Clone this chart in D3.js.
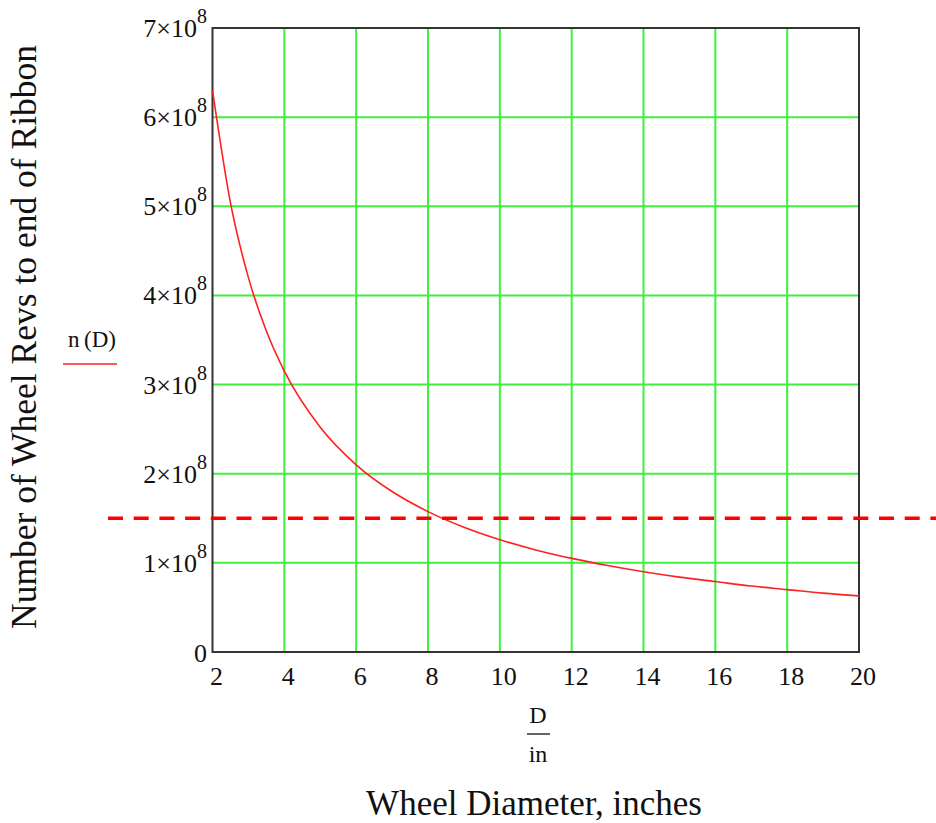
<!DOCTYPE html>
<html>
<head>
<meta charset="utf-8">
<script src="https://cdn.jsdelivr.net/npm/d3@7"></script>
<style>
  body { margin: 0; background: white; }
  text { font-family: "Liberation Serif", "Times New Roman", serif; fill: #111; }
</style>
</head>
<body>
<div id="chart"></div>
<script>
// wheel diameter (inches) and revs
const diameters = [2, 2.5, 3, 3.5, 4, 5, 6, 7, 8, 9, 10, 11, 12, 13, 14, 15, 16, 17, 18, 19, 20];
const revs = [6.3e8, 5.04e8, 4.2e8, 3.6e8, 3.15e8, 2.52e8, 2.1e8, 1.8e8, 1.575e8, 1.4e8, 1.26e8,
              1.145e8, 1.05e8, 9.7e7, 9.0e7, 8.4e7, 7.9e7, 7.4e7, 7.0e7, 6.6e7, 6.3e7];
const targetRevs = 1.5e8;
const xTicks = [2, 4, 6, 8, 10, 12, 14, 16, 18, 20];
const yTicks = [0, 1e8, 2e8, 3e8, 4e8, 5e8, 6e8, 7e8];

function renderChart(){

    const width = 936, height = 823;
    const left = 212.5, right = 859, top = 28, bottom = 652;

    const svg = d3.select("#chart").append("svg")
        .attr("width", width)
        .attr("height", height);

    const x = d3.scaleLinear().domain([2, 20]).range([left, right]);
    const y = d3.scaleLinear().domain([0, 7e8]).range([bottom, top]);

    // grid
    svg.append("g").selectAll("line")
        .data(xTicks.slice(1, -1))
        .enter().append("line")
        .attr("x1", d => x(d)).attr("x2", d => x(d))
        .attr("y1", top).attr("y2", bottom)
        .style("stroke", "#3cf23c")
        .style("stroke-width", 2);

    svg.append("g").selectAll("line")
        .data(yTicks.slice(1, -1))
        .enter().append("line")
        .attr("x1", left).attr("x2", right)
        .attr("y1", d => y(d)).attr("y2", d => y(d))
        .style("stroke", "#3cf23c")
        .style("stroke-width", 2);

    // frame
    svg.append("rect")
        .attr("x", left).attr("y", top)
        .attr("width", right - left).attr("height", bottom - top)
        .style("fill", "none")
        .style("stroke", "#333")
        .style("stroke-width", 2);

    // curve
    const line = d3.line()
        .x((d, i) => x(diameters[i]))
        .y(d => y(d))
        .curve(d3.curveMonotoneX);

    svg.append("path")
        .datum(revs)
        .attr("d", line)
        .style("fill", "none")
        .style("stroke", "#ff2020")
        .style("stroke-width", 1.6);

    // target line, runs past the plot on both sides
    svg.append("line")
        .attr("x1", 108).attr("x2", width)
        .attr("y1", y(targetRevs)).attr("y2", y(targetRevs))
        .style("stroke", "#ff0000")
        .style("stroke-width", 3.5)
        .style("stroke-dasharray", "15,10.7");

    // y tick labels
    const yLab = svg.append("g").selectAll("text")
        .data(yTicks)
        .enter().append("text")
        .attr("x", 207)
        .attr("y", d => y(d) + 9)
        .attr("text-anchor", "end")
        .style("font-size", "26px");

    yLab.each(function(d){
        const t = d3.select(this);
        if (d === 0) {
            t.attr("y", y(d) + 10).text("0");
            return;
        }
        t.append("tspan").text((d / 1e8) + "\u00d710");
        t.append("tspan").attr("dy", -14).style("font-size", "20px").text("8");
    });

    // x tick labels
    svg.append("g").selectAll("text")
        .data(xTicks)
        .enter().append("text")
        .attr("x", d => x(d) + 4)
        .attr("y", 685)
        .attr("text-anchor", "middle")
        .style("font-size", "26px")
        .text(d => d);

    // x axis: D / in
    svg.append("text")
        .attr("x", 538).attr("y", 723)
        .attr("text-anchor", "middle")
        .style("font-size", "24px")
        .text("D");
    svg.append("line")
        .attr("x1", 527).attr("x2", 550)
        .attr("y1", 734).attr("y2", 734)
        .style("stroke", "#111")
        .style("stroke-width", 1.3);
    svg.append("text")
        .attr("x", 538).attr("y", 762)
        .attr("text-anchor", "middle")
        .style("font-size", "24px")
        .text("in");

    svg.append("text")
        .attr("x", 534).attr("y", 815)
        .attr("text-anchor", "middle")
        .style("font-size", "35px")
        .text("Wheel Diameter, inches");

    // y axis title
    svg.append("text")
        .attr("transform", "translate(36,337) rotate(-90)")
        .attr("text-anchor", "middle")
        .style("font-size", "35.5px")
        .text("Number of Wheel Revs to end of Ribbon");

    // legend
    svg.append("text")
        .attr("x", 92).attr("y", 347)
        .attr("text-anchor", "middle")
        .style("font-size", "23px")
        .text("n\u2009(D)");
    svg.append("line")
        .attr("x1", 63).attr("x2", 117)
        .attr("y1", 364).attr("y2", 364)
        .style("stroke", "#ff2020")
        .style("stroke-width", 1.6);
}

renderChart();
</script>
</body>
</html>
